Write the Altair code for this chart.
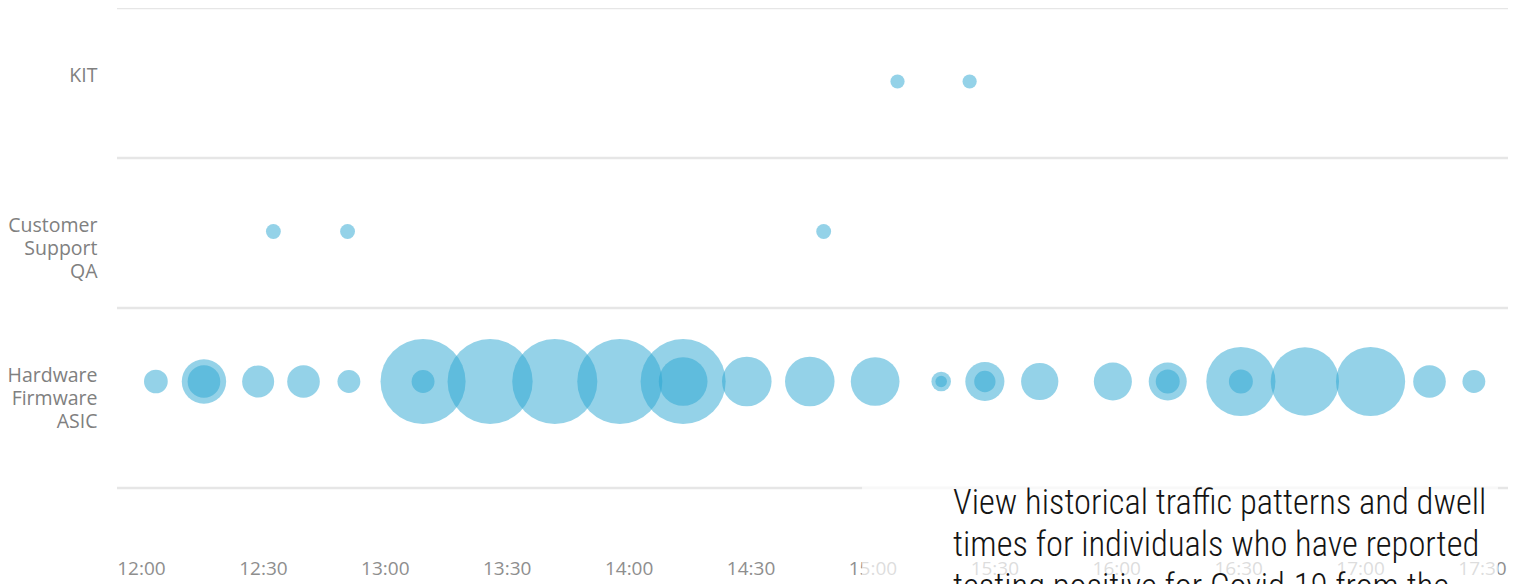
import json
import altair as alt
import pandas as pd

DAY = "2020-03-02"

# --- data ---------------------------------------------------------------
rows = ["KIT", "Customer Support QA", "Hardware Firmware ASIC"]
row_label_lines = [["KIT"], ["Customer", "Support", "QA"], ["Hardware", "Firmware", "ASIC"]]

kit_times = ["15:06:10", "15:23:55"]
kit_visits = [1.0, 1.0]

cs_times = ["12:32:35", "12:50:50", "14:48:00"]
cs_visits = [1.1, 1.1, 1.1]

hw_times = [
    "12:03:40", "12:15:30", "12:15:30", "12:28:50", "12:40:00", "12:51:10",
    "13:09:25", "13:09:25", "13:25:55", "13:41:50", "13:57:50", "14:13:25", "14:13:25",
    "14:29:05", "14:44:35", "15:00:40", "15:16:55", "15:16:55", "15:27:40", "15:27:40",
    "15:41:10", "15:59:10", "16:12:40", "16:12:40", "16:30:40", "16:30:40",
    "16:46:25", "17:02:35", "17:17:05", "17:28:00",
]
hw_visits = [
    2.8, 9.8, 5.3, 5.1, 5.3, 2.6,
    36.0, 2.6, 36.0, 36.0, 36.0, 36.0, 11.8,
    12.2, 12.2, 11.8, 1.9, 0.66, 7.6, 2.25,
    6.9, 7.2, 7.2, 2.85, 23.8, 2.85,
    23.2, 23.8, 5.3, 2.6,
]

tick_labels = ["12:00", "12:30", "13:00", "13:30", "14:00", "14:30",
               "15:00", "15:30", "16:00", "16:30", "17:00", "17:30"]

domain_start = "11:54:06"
domain_end = "17:36:24"
row_separators = [3.5, 2.5, 1.5, 0.3]

note_lines = [
    "View historical traffic patterns and dwell",
    "times for individuals who have reported",
    "testing positive for Covid-19 from the",
]
note_box = {"start": "14:57:26", "end": "17:33:56", "top": 0.31, "bottom": -1.0}
note_anchor = {"time": "15:19:50", "y": 0.125}

# --- tables ---------------------------------------------------------------
def ts(t):
    return f"{DAY}T{t}"

def dt(t):
    h, m, *s = [int(v) for v in t.split(":")]
    return alt.DateTime(year=2020, month=3, date=2, hours=h, minutes=m,
                        seconds=s[0] if s else 0)

recs = []
for name, times, vals in [(rows[0], kit_times, kit_visits),
                          (rows[1], cs_times, cs_visits),
                          (rows[2], hw_times, hw_visits)]:
    r = len(rows) - rows.index(name)
    for t, v in zip(times, vals):
        recs.append({"dept": name, "row": r, "time": ts(t), "visits": v})
df = pd.DataFrame(recs)

sep_df = pd.DataFrame({"y": row_separators})
box_df = pd.DataFrame([{"start": ts(note_box["start"]), "end": ts(note_box["end"]),
                        "top": note_box["top"], "bottom": note_box["bottom"]}])
note_df = pd.DataFrame([{"time": ts(note_anchor["time"]), "y": note_anchor["y"],
                         "text": "\n".join(note_lines)}])

label_map = {len(rows) - i: lines for i, lines in enumerate(row_label_lines)}
label_expr = " : ".join(
    f"datum.value == {k} ? {json.dumps(v)}" for k, v in label_map.items()
) + " : ''"

x_scale = alt.Scale(domain=[dt(domain_start), dt(domain_end)])
y_scale = alt.Scale(domain=[0.3, 3.5], zero=False, nice=False)

x_axis = alt.Axis(values=[dt(t) for t in tick_labels], format="%H:%M", title=None,
                  domain=False, ticks=False, tickSize=0, grid=False,
                  labelFont="Open Sans", labelFontSize=19, labelFontWeight=400,
                  labelColor="#8e8e8e", labelPadding=71, labelFlush=False,
                  labelOverlap=False, zindex=0)
y_axis = alt.Axis(values=[1, 2, 3], labelExpr=label_expr, title=None,
                  domain=False, ticks=False, tickSize=0, grid=False,
                  labelFont="Open Sans", labelFontSize=19.5, labelFontWeight=400,
                  labelColor="#808080", labelPadding=20, labelLineHeight=23,
                  labelAlign="right", labelBaseline="middle", labelOffset=-8,
                  labelOverlap=False, labelFlush=False, zindex=0)

seps = alt.Chart(sep_df).mark_rule(color="#e6e6e6", strokeWidth=2.5).encode(
    y=alt.Y("y:Q", scale=y_scale, axis=y_axis)
)

bubbles = alt.Chart(df).mark_circle(color="#29a5d1", opacity=0.5, yOffset=-1.5).encode(
    x=alt.X("time:T", scale=x_scale, axis=x_axis),
    y=alt.Y("row:Q", scale=y_scale, axis=y_axis),
    size=alt.Size("visits:Q", scale=alt.Scale(domain=[0, 36], range=[0, 7238]), legend=None),
)

box = alt.Chart(box_df).mark_rect(color="white", opacity=0.7).encode(
    x=alt.X("start:T", scale=x_scale, axis=x_axis),
    x2="end:T",
    y=alt.Y("top:Q", scale=y_scale, axis=y_axis),
    y2="bottom:Q",
)

note = alt.Chart(note_df).mark_text(
    align="left", baseline="alphabetic", lineBreak="\n", lineHeight=42,
    font="Roboto Condensed, Liberation Sans Narrow, Roboto", fontSize=34.5,
    fontWeight=300, color="#141414",
).encode(
    x=alt.X("time:T", scale=x_scale, axis=x_axis),
    y=alt.Y("y:Q", scale=y_scale, axis=y_axis),
    text="text:N",
)

chart = alt.layer(seps, bubbles, box, note).properties(
    width=1391, height=480,
    autosize=alt.AutoSizeParams(type="none"),
    padding={"left": 109, "top": 0, "right": 10, "bottom": 96},
    background="white",
).configure_view(stroke=None)

chart.save("out.html", embed_options={"renderer": "svg", "actions": False})
